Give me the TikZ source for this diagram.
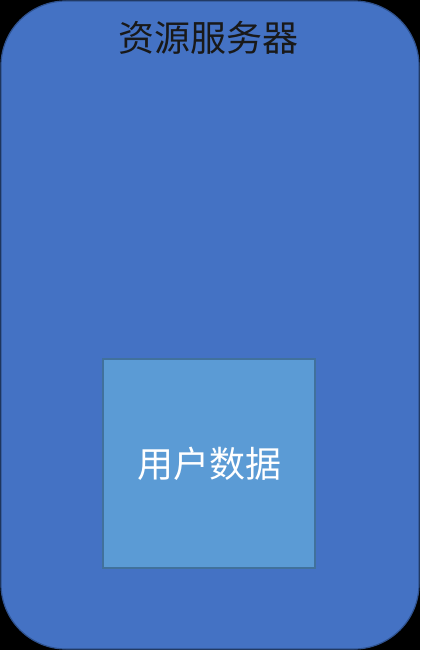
\documentclass[tikz,border=0pt]{standalone}
\usepackage{fontspec}
\newfontfamily\cjk{Noto Sans CJK SC}
\usetikzlibrary{positioning}
\definecolor{server}{RGB}{68, 114, 196}
\definecolor{serverline}{RGB}{47, 82, 143}
\definecolor{data}{RGB}{91, 155, 213}
\definecolor{dataline}{RGB}{65, 113, 156}
\tikzset{
  serverbox/.style = {rectangle, rounded corners=65pt, draw=serverline, fill=server, line width=1.2pt},
  databox/.style = {rectangle, draw=dataline, fill=data, line width=1.2pt, minimum width=212pt, minimum height=209pt, text=white, font=\cjk\fontsize{36}{40}\selectfont},
  title/.style = {text=black!90, font=\cjk\fontsize{36}{40}\selectfont}
}
\begin{document}
\begin{tikzpicture}[x=1pt, y=-1pt]
    % Canvas
    \fill[black] (0,0) rectangle (420,650);
    \useasboundingbox (0,0) rectangle (420,650);

    % Server
    \draw[serverbox] (1,1) rectangle (419,649);
    \node[title] (srv) at (208,38) {资源服务器};

    % User data
    \node[databox] (usr) at (209,463.5) {用户数据};
\end{tikzpicture}
\end{document}
